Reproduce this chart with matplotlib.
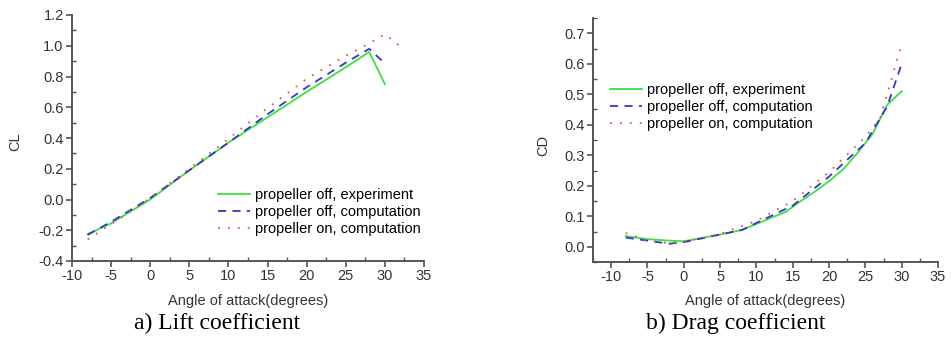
import matplotlib
matplotlib.use('Agg')
import matplotlib.pyplot as plt
from matplotlib.ticker import MultipleLocator

plt.rcParams['font.family'] = ['Liberation Sans', 'DejaVu Sans']
plt.rcParams['axes.unicode_minus'] = False

# lift coefficient data
cl_exp_a = [-8, -5, 0, 5, 10, 15, 20, 25, 28, 30]
cl_exp = [-0.225, -0.155, 0.0, 0.19, 0.37, 0.535, 0.70, 0.86, 0.96, 0.75]
cl_off_a = [-8, -5, 0, 5, 10, 15, 20, 25, 28, 30]
cl_off = [-0.23, -0.145, 0.01, 0.19, 0.37, 0.555, 0.73, 0.89, 0.98, 0.885]
cl_on_a = [-8, -5, 0, 5, 10, 15, 20, 25, 28, 30, 32]
cl_on = [-0.26, -0.16, 0.01, 0.20, 0.395, 0.595, 0.785, 0.935, 1.015, 1.075, 0.995]

# drag coefficient data
cd_exp_a = [-8, -5, -2, 0, 5, 8, 10, 14, 16, 18, 20, 22, 24, 26, 28, 30]
cd_exp = [0.035, 0.025, 0.02, 0.018, 0.04, 0.055, 0.075, 0.114, 0.148, 0.18, 0.215, 0.255, 0.31, 0.37, 0.465, 0.51]
cd_off_a = [-8, -5, -2, 0, 5, 8, 10, 15, 20, 25, 26, 28, 30]
cd_off = [0.03, 0.02, 0.01, 0.015, 0.04, 0.055, 0.078, 0.135, 0.23, 0.34, 0.38, 0.46, 0.60]
cd_on_a = [-8, -5, -2, 0, 5, 10, 15, 20, 25, 27, 28, 30]
cd_on = [0.045, 0.02, 0.012, 0.016, 0.042, 0.085, 0.15, 0.245, 0.36, 0.42, 0.50, 0.665]

labels = ['propeller off, experiment', 'propeller off, computation', 'propeller on, computation']
green = '#3ee03e'
blue = '#3535d0'
red = '#e05555'
fs = 10.5

fig = plt.figure(figsize=(9.52, 3.37), dpi=100)
W, H = 952, 337
ax1 = fig.add_axes([72 / W, 1 - 261 / H, (424 - 72) / W, (261 - 15) / H])
ax2 = fig.add_axes([593 / W, 1 - 262 / H, (938 - 593) / W, (262 - 18) / H])


def style(ax):
    for s in ['top', 'right']:
        ax.spines[s].set_visible(False)
    for s in ['left', 'bottom']:
        ax.spines[s].set_linewidth(1.4)
        ax.spines[s].set_color('#555555')
    ax.tick_params(which='major', direction='out', length=4, width=1.2, color='#555555',
                   labelsize=fs, labelcolor='#333333', pad=2)
    ax.tick_params(which='minor', direction='in', length=3, width=1.0, color='#555555')


def draw(ax, xs, ys):
    ax.plot(xs[0], ys[0], color=green, lw=1.3, label=labels[0])
    ax.plot(xs[1], ys[1], color=blue, lw=1.3, ls=(0, (4.5, 3.5)), label=labels[1])
    ax.plot(xs[2], ys[2], color=red, lw=1.3, ls=(0, (1, 4.5)), label=labels[2])


draw(ax1, [cl_exp_a, cl_off_a, cl_on_a], [cl_exp, cl_off, cl_on])
ax1.set_xlim(-10, 35)
ax1.set_ylim(-0.4, 1.2)
ax1.xaxis.set_major_locator(MultipleLocator(5))
ax1.xaxis.set_minor_locator(MultipleLocator(2.5))
ax1.yaxis.set_major_locator(MultipleLocator(0.2))
ax1.yaxis.set_minor_locator(MultipleLocator(0.1))
style(ax1)
ax1.yaxis.set_major_formatter(lambda v, p: f'{v:.1f}')
ax1.legend(loc='center left', bbox_to_anchor=(0.415, 0.199), frameon=False, fontsize=fs,
           handlelength=2.2, handletextpad=0.35, labelspacing=0.2, borderaxespad=0,
           borderpad=0)

draw(ax2, [cd_exp_a, cd_off_a, cd_on_a], [cd_exp, cd_off, cd_on])
ax2.set_xlim(-12.5, 35)
ax2.set_ylim(-0.05, 0.75)
ax2.xaxis.set_major_locator(MultipleLocator(5))
ax2.xaxis.set_minor_locator(MultipleLocator(2.5))
ax2.yaxis.set_major_locator(MultipleLocator(0.1))
ax2.yaxis.set_minor_locator(MultipleLocator(0.05))
style(ax2)
ax2.set_yticks([0, 0.1, 0.2, 0.3, 0.4, 0.5, 0.6, 0.7])
ax2.yaxis.set_major_formatter(lambda v, p: f'{v:.1f}')
ax2.legend(loc='center left', bbox_to_anchor=(0.049, 0.635), frameon=False, fontsize=fs,
           handlelength=2.2, handletextpad=0.35, labelspacing=0.2, borderaxespad=0,
           borderpad=0)

# axis labels and captions placed in figure coordinates
fig.text(248 / W, 1 - 301 / H, 'Angle of attack(degrees)', ha='center', va='center',
         fontsize=fs, color='#333333')
fig.text(765 / W, 1 - 301 / H, 'Angle of attack(degrees)', ha='center', va='center',
         fontsize=fs, color='#333333')
fig.text(15 / W, 1 - 142 / H, 'CL', ha='center', va='center', rotation=90,
         fontsize=fs, color='#333333')
fig.text(543 / W, 1 - 145 / H, 'CD', ha='center', va='center', rotation=90,
         fontsize=fs, color='#333333')
fig.text(217 / W, 1 - 323 / H, 'a) Lift coefficient', ha='center', va='center',
         fontsize=17, family='Liberation Serif')
fig.text(736 / W, 1 - 323 / H, 'b) Drag coefficient', ha='center', va='center',
         fontsize=17, family='Liberation Serif')

fig.savefig('out.png', dpi=100)
